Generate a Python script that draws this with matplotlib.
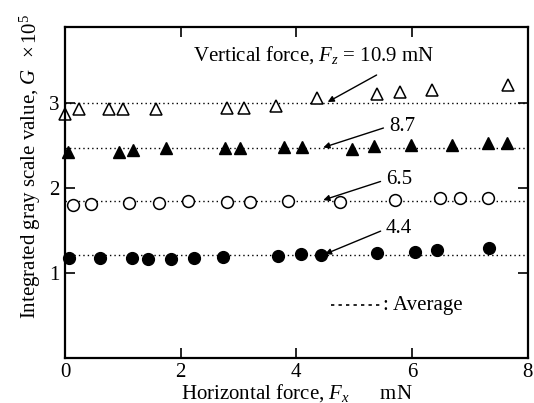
import matplotlib
matplotlib.use("Agg")
import matplotlib.pyplot as plt

plt.rcParams["font.family"] = ["Liberation Serif", "DejaVu Serif"]
plt.rcParams["mathtext.fontset"] = "custom"
plt.rcParams["mathtext.it"] = "Liberation Serif:italic"
plt.rcParams["mathtext.rm"] = "Liberation Serif"

# Fz = 10.9 mN (open triangles)
x_109 = [0.0, 0.24, 0.76, 1.0, 1.57, 2.8, 3.1, 3.64, 4.35, 5.39, 5.8, 6.35, 7.66]
g_109 = [2.88, 2.93, 2.93, 2.93, 2.93, 2.94, 2.95, 2.97, 3.06, 3.11, 3.13, 3.16, 3.22]
# Fz = 8.7 mN (filled triangles)
x_87 = [0.05, 0.94, 1.17, 1.74, 2.77, 3.02, 3.78, 4.09, 4.97, 5.35, 5.99, 6.69, 7.31, 7.65]
g_87 = [2.43, 2.43, 2.45, 2.47, 2.47, 2.47, 2.49, 2.49, 2.46, 2.50, 2.51, 2.51, 2.53, 2.53]
# Fz = 6.5 mN (open circles)
x_65 = [0.13, 0.45, 1.11, 1.63, 2.12, 2.8, 3.2, 3.85, 4.75, 5.7, 6.48, 6.83, 7.32]
g_65 = [1.80, 1.81, 1.82, 1.82, 1.85, 1.84, 1.84, 1.85, 1.84, 1.86, 1.88, 1.88, 1.89]
# Fz = 4.4 mN (filled circles)
x_44 = [0.06, 0.6, 1.16, 1.43, 1.83, 2.23, 2.73, 3.69, 4.08, 4.43, 5.39, 6.05, 6.43, 7.33]
g_44 = [1.18, 1.18, 1.18, 1.16, 1.16, 1.18, 1.19, 1.20, 1.22, 1.21, 1.24, 1.25, 1.27, 1.29]

averages = [3.0, 2.47, 1.85, 1.21]

fig = plt.figure(figsize=(5.34, 4.03), dpi=100)
ax = fig.add_axes([0.122, 0.112, 0.866, 0.821])

for avg in averages:
    ax.plot([0, 8], [avg, avg], linestyle=(0, (1.0, 2.2)), color="k", linewidth=1.0)

ax.plot(x_109, g_109, "^", mfc="white", mec="k", ms=8.5, mew=1.1, clip_on=False)
ax.plot(x_87, g_87, "^", mfc="k", mec="k", ms=8.5, clip_on=False)
ax.plot(x_65, g_65, "o", mfc="white", mec="k", ms=8.5, mew=1.1, clip_on=False)
ax.plot(x_44, g_44, "o", mfc="k", mec="k", ms=8.5, clip_on=False)

ax.set_xlim(0, 8)
ax.set_ylim(0, 3.9)
ax.set_xticks([0, 2, 4, 6, 8])
ax.set_yticks([1, 2, 3])
ax.tick_params(direction="in", length=7, width=1.2, labelsize=15,
               top=True, right=True, pad=4)
for s in ax.spines.values():
    s.set_linewidth(1.6)

arrow = dict(arrowstyle="-|>", color="k", lw=1.0, mutation_scale=9)
ax.text(4.3, 3.57, "Vertical force, $F_z$ = 10.9 mN", fontsize=15,
        ha="center", va="center")
ax.annotate("", xy=(4.5, 3.0), xytext=(5.43, 3.35), arrowprops=arrow)
ax.annotate("8.7", xy=(4.42, 2.47), xytext=(5.6, 2.73), fontsize=15,
            ha="left", va="center",
            arrowprops=dict(arrow, relpos=(0, 0.5)))
ax.annotate("6.5", xy=(4.42, 1.85), xytext=(5.55, 2.1), fontsize=15,
            ha="left", va="center",
            arrowprops=dict(arrow, relpos=(0, 0.5)))
ax.annotate("4.4", xy=(4.45, 1.21), xytext=(5.55, 1.52), fontsize=15,
            ha="left", va="center",
            arrowprops=dict(arrow, relpos=(0, 0.5)))

ax.plot([4.6, 5.5], [0.62, 0.62], linestyle=(0, (2, 2.5)), color="k", linewidth=1.2)
ax.text(5.5, 0.62, ": Average", fontsize=15, ha="left", va="center")

ax.set_xlabel("Horizontal force, $F_x$      mN", fontsize=15, labelpad=0)
fig.text(0.058, 0.52, "Integrated gray scale value, $G$", rotation=90,
         fontsize=15, ha="center", va="center")
fig.text(0.058, 0.91, r"$\times\,$10$^5$", rotation=90,
         fontsize=15, ha="center", va="center")

fig.savefig("out.png", dpi=100)
